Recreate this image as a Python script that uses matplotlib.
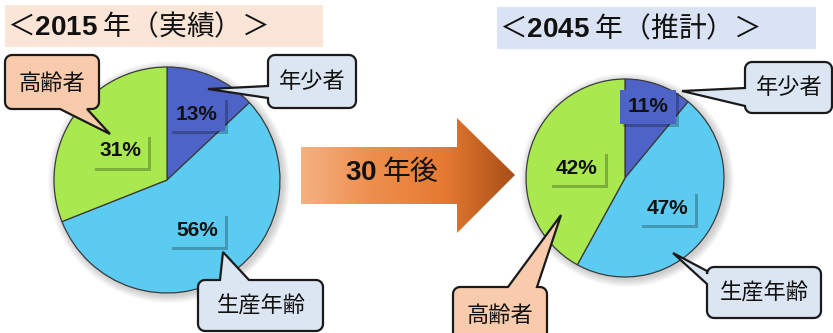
import numpy as np
import matplotlib
matplotlib.use("Agg")
import matplotlib.pyplot as plt
import matplotlib.patheffects as pe
from matplotlib.patches import Polygon, Rectangle, Circle
from matplotlib.colors import LinearSegmentedColormap

plt.rcParams['font.family'] = ['Noto Sans CJK JP', 'DejaVu Sans']
plt.rcParams['mathtext.fontset'] = 'custom'
plt.rcParams['mathtext.bf'] = 'Liberation Sans:bold'
plt.rcParams['mathtext.rm'] = 'Liberation Sans'

# population share by age group (年少者, 生産年齢, 高齢者)
groups = ['年少者', '生産年齢', '高齢者']
share_2015 = [13, 56, 31]
share_2045 = [11, 47, 42]
titles = ['＜$\\mathbf{2015}$ 年（実績）＞', '＜$\\mathbf{2045}$ 年（推計）＞']
arrow_label = '$\\mathbf{30}$ 年後'

slice_colors = ['#4E63C8', '#5BCBF1', '#A9E94F']
callout_colors = {'年少者': '#DCE6F2', '生産年齢': '#DCE6F2', '高齢者': '#F8CBAD'}

W, H = 833, 333
fig = plt.figure(figsize=(W / 100, H / 100), dpi=100)
ax = fig.add_axes([0, 0, 1, 1])


def Y(y):
    # layout is measured top-down in pixels
    return H - y


def callout(x0, y0, x1, y1, side, b0, b1, tip, fc, r=7, n=8):
    pts = []

    def arc(cx, cy, a0, a1):
        for a in np.linspace(np.radians(a0), np.radians(a1), n):
            pts.append((cx + r * np.cos(a), cy + r * np.sin(a)))

    arc(x0 + r, y0 + r, 180, 270)
    if side == 'top':
        pts += [(b0, y0), tip, (b1, y0)]
    arc(x1 - r, y0 + r, 270, 360)
    if side == 'right':
        pts += [(x1, b0), tip, (x1, b1)]
    arc(x1 - r, y1 - r, 0, 90)
    if side == 'bottom':
        pts += [(b1, y1), tip, (b0, y1)]
    arc(x0 + r, y1 - r, 90, 180)
    if side == 'left':
        pts += [(x0, b1), tip, (x0, b0)]
    pts = [(px, Y(py)) for px, py in pts]
    ax.add_patch(Polygon(pts, closed=True, facecolor=fc, edgecolor='#1A1A1A',
                         linewidth=1.6, joinstyle='miter', zorder=6))


def pie_with_labels(vals, cx, cy, r, label_pos):
    # soft shadow under the pie
    for k in range(8, 0, -1):
        ax.add_patch(Circle((cx + 2, Y(cy + 2)), r + k, facecolor='#000000',
                            alpha=0.025, edgecolor='none', zorder=1))
    ax.pie(vals, colors=slice_colors, startangle=90, counterclock=False,
           center=(cx, Y(cy)), radius=r,
           wedgeprops=dict(edgecolor='#3A3A3A', linewidth=0.9, zorder=2))
    for v, c, (lx, ly) in zip(vals, slice_colors, label_pos):
        t = ax.text(lx, Y(ly), f'{v}%', ha='center', va='center', fontsize=15,
                    family='Liberation Sans', weight='bold', color='#111111', zorder=5,
                    bbox=dict(boxstyle='square,pad=0.35', facecolor=c, edgecolor='none'))
        t.get_bbox_patch().set_path_effects([
            pe.SimplePatchShadow(offset=(2, -2), shadow_rgbFace='black', alpha=0.25),
            pe.Normal()])


# title bands
ax.add_patch(Rectangle((5, Y(47)), 318, 42, facecolor='#FBE5D6', edgecolor='none', zorder=0))
ax.add_patch(Rectangle((497, Y(49)), 319, 42, facecolor='#DAE3F3', edgecolor='none', zorder=0))
ax.text(7, Y(27), titles[0], ha='left', va='center', fontsize=20, color='#111111')
ax.text(499, Y(29), titles[1], ha='left', va='center', fontsize=20, color='#111111')

# pies
pie_with_labels(share_2015, 167, 180, 113, [(197, 114), (197, 230), (120, 151)])
pie_with_labels(share_2045, 625, 178, 99, [(648, 107), (667, 208), (577, 168)])

# gradient arrow
arrow_pts = [(301, 147), (457, 147), (457, 118), (515, 175), (457, 233), (457, 204), (301, 204)]
arrow = Polygon([(px, Y(py)) for px, py in arrow_pts], closed=True,
                facecolor='none', edgecolor='none', zorder=3)
ax.add_patch(arrow)
grad_cmap = LinearSegmentedColormap.from_list(
    'arrow', ['#F4B183', '#EE8E4E', '#E67A31', '#A84E17'])
grad = np.linspace(0, 1, 256).reshape(1, -1)
img = ax.imshow(grad, cmap=grad_cmap, aspect='auto', extent=(301, 515, Y(233), Y(118)),
                zorder=3, interpolation='bilinear')
img.set_clip_path(arrow)
ax.text(392, Y(172), arrow_label, ha='center', va='center', fontsize=20,
        color='#111111', zorder=4)

# callouts
callout(5, 55, 99, 109, 'bottom', 60, 87, (110, 134), callout_colors['高齢者'])
callout(268, 55, 356, 108, 'left', 86, 98, (208, 89), callout_colors['年少者'])
callout(198, 280, 323, 331, 'top', 220, 249, (223, 252), callout_colors['生産年齢'])
callout(745, 62, 832, 113, 'left', 88, 106, (682, 91), callout_colors['年少者'])
callout(707, 267, 821, 318, 'left', 271, 284, (673, 253), callout_colors['生産年齢'])
callout(453, 287, 547, 345, 'top', 508, 537, (561, 215), callout_colors['高齢者'])

callout_text = [('高齢者', 52, 83), ('年少者', 312, 82), ('生産年齢', 261, 306),
                ('年少者', 789, 88), ('生産年齢', 764, 293), ('高齢者', 500, 316)]
for s, tx, ty in callout_text:
    ax.text(tx, Y(ty), s, ha='center', va='center', fontsize=16, color='#111111', zorder=7)

ax.set_xlim(0, W)
ax.set_ylim(0, H)
ax.set_aspect('auto')
ax.axis('off')

fig.savefig('out.png', dpi=100)
